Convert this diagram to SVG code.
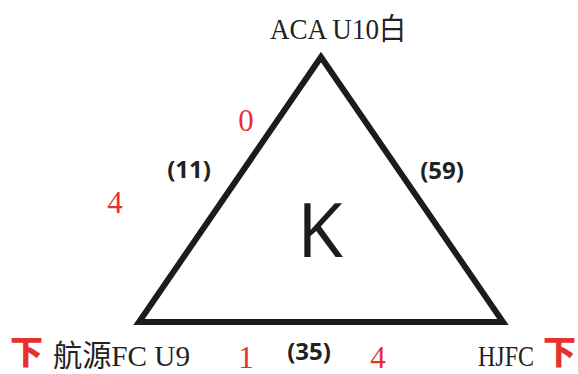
<svg xmlns="http://www.w3.org/2000/svg" width="578" height="374" viewBox="0 0 578 374">
<style>
.serif{font-family:"Liberation Serif","Noto Sans CJK SC",serif;fill:#222}
.red{font-family:"Liberation Serif",serif;fill:#e8302f;font-size:31px}
.lbl{font-family:"Open Sans","Noto Sans",sans-serif;font-weight:bold;font-size:24px;fill:#222}
.xia{font-family:"Noto Sans CJK SC",sans-serif;font-weight:900;fill:#e8302f;font-size:33px}
</style>
<rect width="578" height="374" fill="#fff"/>
<g id="edges">
<polygon points="321,57 139,322 503,322" fill="none" stroke="#1c1c1c" stroke-width="6" stroke-linejoin="miter"/>
</g>
<g id="center"><text x="320" y="257" text-anchor="middle" font-family="Open Sans, sans-serif" font-size="75" fill="#1c1c1c">K</text></g>
<g id="top"><text class="serif" x="270" y="39" font-size="30" textLength="136" lengthAdjust="spacingAndGlyphs">ACA U10白</text></g>
<g id="left"><text class="serif" x="53" y="366" font-size="30" textLength="137" lengthAdjust="spacingAndGlyphs">航源FC U9</text>
<text class="xia" x="10" y="364">下</text></g>
<g id="right"><text class="serif" transform="translate(478,366) scale(0.8,1)" font-size="30">HJFC</text>
<text class="xia" x="543" y="364">下</text></g>
<g id="labels">
<text class="lbl" x="189" y="178" text-anchor="middle">(11)</text>
<text class="lbl" x="442" y="179" text-anchor="middle">(59)</text>
<text class="lbl" x="309" y="360" text-anchor="middle">(35)</text>
<text class="red" x="246" y="131" text-anchor="middle">0</text>
<text class="red" x="115" y="213" text-anchor="middle">4</text>
<text class="red" x="246" y="368" text-anchor="middle">1</text>
<text class="red" x="378" y="368" text-anchor="middle">4</text>
</g>
</svg>
